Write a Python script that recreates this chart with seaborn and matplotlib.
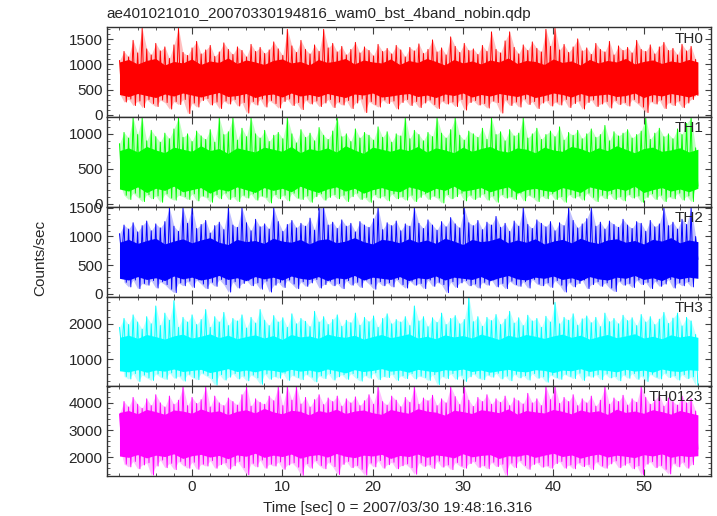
import numpy as np
import pandas as pd
import matplotlib
matplotlib.use("Agg")
import matplotlib.pyplot as plt
import seaborn as sns
from matplotlib.ticker import MultipleLocator

title = "ae401021010_20070330194816_wam0_bst_4band_nobin.qdp"
channels = ["TH0", "TH1", "TH2", "TH3", "TH0123"]
colors = ["#ff0000", "#00ff00", "#0000ff", "#00ffff", "#ff00ff"]

# upper / lower excursions every 0.5 s (counts/sec)
th0_hi = [1080, 1260, 1150, 1480, 1230, 1720, 1310, 1190, 1420, 1270, 1350, 1120, 1390, 1720, 1240, 1180,
          1330, 1460, 1210, 1290, 1380, 1160, 1250, 1430, 1300, 1200, 1350, 1280, 1150, 1400, 1260, 1340,
          1220, 1290, 1450, 1310, 1180, 1700, 1370, 1240, 1480, 1300, 1210, 1390, 1260, 1700, 1330, 1420,
          1250, 1360, 1190, 1300, 1440, 1230, 1350, 1280, 1170, 1400, 1260, 1320, 1210, 1380, 1290, 1150,
          1340, 1270, 1410, 1220, 1300, 1490, 1250, 1330, 1190, 1550, 1360, 1240, 1420, 1280, 1310, 1200,
          1380, 1260, 1650, 1300, 1230, 1470, 1650, 1340, 1210, 1390, 1280, 1450, 1320, 1250, 1700, 1360,
          1720, 1290, 1400, 1240, 1350, 1510, 1270, 1330, 1200, 1420, 1300, 1250, 1460, 1190, 1370, 1280,
          1340, 1230, 1480, 1300, 1260, 1390, 1210, 1350, 1440, 1280, 1320, 1190, 1400, 1270, 1360, 1100]
th0_lo = [420, 250, 310, 180, 270, 140, 300, 220, 160, 290, 240, 110, 260, 200, 300, 20,
          230, 150, 280, 320, 190, 250, 120, 270, 210, 300, 170, 240, 30, 260, 190, 310,
          150, 280, 220, 130, 260, 310, 180, 240, 100, 290, 210, 270, 160, 230, 300, 140,
          250, 190, 280, 120, 230, 310, 40, 260, 200, 150, 290, 220, 270, 110, 240, 300,
          180, 260, 140, 230, 290, 200, 120, 270, 210, 250, 160, 300, 90, 240, 280, 190,
          220, 130, 270, 240, 30, 290, 180, 250, 150, 310, 200, 260, 120, 230, 280, 170,
          250, 190, 300, 140, 220, 270, 110, 240, 290, 160, 210, 260, 130, 280, 200, 240,
          170, 300, 230, 150, 40, 260, 210, 290, 120, 240, 180, 270, 140, 230, 300, 380]

th1_hi = [860, 1020, 940, 1230, 990, 1230, 900, 1050, 960, 880, 1010, 930, 1070, 1230, 950, 1000,
          890, 1040, 970, 920, 1060, 880, 1230, 990, 1030, 1230, 910, 1080, 960, 1230, 1000, 940,
          1050, 890, 980, 1020, 930, 1230, 1000, 870, 1060, 950, 1010, 900, 1090, 980, 920, 1040,
          1230, 960, 1000, 890, 1070, 940, 1020, 980, 910, 1100, 950, 1030, 880, 1000, 970, 1230,
          930, 1050, 990, 900, 1020, 960, 1230, 1010, 940, 1060, 1230, 980, 910, 1040, 1000, 950,
          1080, 920, 1230, 990, 1030, 900, 1060, 970, 1010, 1230, 940, 1000, 1080, 920, 990, 1040,
          960, 1100, 910, 1020, 980, 1050, 930, 1000, 1070, 950, 990, 1120, 900, 1030, 970, 1010,
          1060, 940, 990, 1040, 1230, 920, 1010, 1080, 960, 1000, 930, 1070, 990, 1150, 1230, 800]
th1_lo = [300, 120, 60, 150, 90, 30, 130, 70, 110, 20, 140, 80, 50, 120, 100, 60,
          140, 40, 110, 90, 20, 130, 70, 150, 60, 100, 30, 120, 80, 140, 50, 110,
          90, 10, 130, 70, 120, 40, 150, 80, 60, 110, 20, 100, 140, 50, 90, 130,
          70, 120, 30, 100, 150, 60, 90, 20, 130, 80, 110, 40, 140, 70, 100, 50,
          120, 30, 90, 140, 60, 110, 80, 10, 130, 70, 100, 150, 40, 120, 60, 90,
          140, 50, 110, 20, 130, 80, 100, 60, 150, 40, 120, 90, 30, 110, 70, 140,
          60, 100, 20, 130, 80, 110, 50, 150, 90, 30, 120, 70, 140, 60, 100, 40,
          130, 80, 110, 20, 90, 140, 60, 120, 30, 100, 70, 150, 50, 110, 30, 250]

th2_hi = [1050, 1200, 1130, 1240, 1080, 1190, 1270, 1100, 1220, 1150, 1260, 1500, 1180, 1090, 1500, 1230,
          1500, 1140, 1210, 1280, 1060, 1190, 1250, 1120, 1500, 1200, 1160, 1500, 1240, 1100, 1300, 1170,
          1220, 1130, 1500, 1260, 1090, 1210, 1280, 1150, 1230, 1180, 1320, 1110, 1500, 1500, 1200, 1250,
          1140, 1290, 1180, 1230, 1080, 1260, 1200, 1160, 1310, 1500, 1120, 1240, 1190, 1270, 1100, 1220,
          1180, 1500, 1230, 1140, 1290, 1200, 1110, 1260, 1170, 1330, 1220, 1150, 1500, 1240, 1190, 1280,
          1120, 1250, 1200, 1350, 1160, 1230, 1090, 1270, 1180, 1500, 1210, 1140, 1290, 1230, 1170, 1260,
          1100, 1240, 1190, 1500, 1280, 1150, 1220, 1310, 1500, 1180, 1250, 1130, 1270, 1210, 1160, 1300,
          1200, 1140, 1260, 1230, 1090, 1280, 1170, 1220, 1500, 1190, 1250, 1130, 1300, 1210, 1500, 1000]
th2_lo = [650, 200, 120, 240, 90, 180, 150, 230, 100, 210, 160, 80, 20, 190, 140, 220,
          110, 240, 170, 90, 200, 130, 250, 160, 30, 210, 100, 180, 230, 140, 190, 80,
          220, 30, 150, 200, 110, 240, 170, 90, 210, 130, 190, 250, 100, 160, 220, 140,
          180, 90, 230, 150, 200, 110, 240, 170, 80, 210, 140, 190, 120, 250, 160, 100,
          220, 150, 180, 90, 240, 130, 200, 160, 20, 210, 110, 190, 230, 140, 170, 100,
          200, 150, 240, 120, 180, 90, 220, 160, 130, 210, 100, 250, 170, 140, 190, 110,
          230, 150, 30, 200, 120, 180, 240, 90, 160, 210, 130, 190, 100, 40, 220, 150,
          180, 110, 240, 160, 200, 90, 220, 130, 170, 250, 100, 190, 140, 210, 120, 600]

th3_hi = [1900, 2150, 1980, 2250, 2050, 1850, 2200, 2000, 2500, 1950, 2300, 2100, 2650, 1900, 2180, 2050,
          2250, 1980, 2120, 2400, 1900, 2200, 2050, 2320, 1950, 2150, 2080, 2250, 1880, 2180, 2020, 2400,
          2100, 1950, 2230, 2050, 2170, 1900, 2280, 2000, 2150, 2070, 1920, 2350, 2050, 2200, 1980, 2120,
          2250, 1930, 2100, 2030, 2300, 1960, 2180, 2060, 2220, 1900, 2150, 2280, 2000, 2120, 2050, 2200,
          1950, 2500, 2080, 2200, 1920, 2170, 2040, 2300, 1980, 2150, 2230, 2000, 2120, 2750, 2060, 2200,
          1930, 2180, 2090, 2260, 1980, 2130, 2350, 2020, 2170, 1950, 2240, 2080, 2150, 1900, 2210, 2050,
          2600, 2000, 2180, 2100, 2280, 1960, 2140, 2220, 2030, 2180, 1920, 2300, 2060, 2150, 2000, 2240,
          2090, 2170, 1950, 2260, 2050, 2200, 1980, 2130, 2320, 2010, 2160, 2300, 1940, 2180, 2080, 1700]
th3_lo = [1300, 520, 450, 600, 380, 560, 480, 410, 590, 500, 440, 620, 470, 530, 390, 580,
          490, 430, 610, 540, 460, 280, 570, 420, 500, 600, 450, 530, 400, 560, 480, 300,
          590, 440, 520, 470, 610, 410, 550, 490, 430, 580, 500, 370, 540, 460, 600, 420,
          510, 570, 440, 600, 480, 390, 550, 470, 620, 430, 520, 490, 580, 410, 540, 460,
          600, 450, 530, 490, 410, 570, 290, 520, 460, 600, 440, 550, 380, 510, 590, 470,
          430, 560, 500, 610, 450, 530, 400, 580, 480, 540, 420, 600, 470, 510, 360, 560,
          490, 440, 580, 520, 460, 610, 410, 540, 500, 570, 430, 590, 480, 520, 400, 560,
          470, 600, 440, 530, 380, 580, 500, 450, 610, 490, 540, 420, 570, 460, 510, 270]

th0123_hi = [3600, 4050, 3850, 4200, 3950, 3800, 4150, 3900, 4300, 4000, 3850, 4250, 3950, 4100, 4600, 3900,
             4200, 3980, 4120, 4600, 3850, 4250, 4000, 3900, 4180, 4050, 3920, 4300, 4600, 3880, 4150, 4020,
             3950, 4250, 4080, 4600, 3900, 4600, 4100, 4600, 3960, 4200, 3850, 4120, 4300, 3940, 4180, 4050,
             4250, 3880, 4150, 4000, 4220, 3900, 4080, 4300, 3950, 4600, 4050, 3920, 4250, 4100, 3860, 4200,
             4020, 4600, 3950, 4180, 4080, 4280, 3900, 4150, 4000, 4600, 4230, 3940, 4600, 4100, 3870, 4200,
             4050, 4300, 3950, 4150, 4020, 4250, 3900, 4180, 4080, 3960, 4350, 4000, 4150, 3900, 4600, 4120,
             4600, 3980, 4200, 4050, 4300, 3900, 4150, 4000, 4250, 3880, 4100, 4600, 3950, 4180, 4050, 4280,
             3920, 4150, 4020, 4600, 4200, 3950, 4100, 4300, 3880, 4180, 4050, 3920, 4250, 4000, 4150, 3700]
th0123_lo = [2400, 1750, 1650, 1850, 1580, 1720, 1800, 1350, 1680, 1900, 1620, 1780, 1550, 1850, 1700, 1600,
             1820, 1560, 1750, 1680, 1880, 1600, 1730, 1800, 1570, 1690, 1850, 1620, 1360, 1780, 1650, 1900,
             1600, 1750, 1680, 1830, 1560, 1720, 1800, 1640, 1340, 1770, 1600, 1880, 1700, 1580, 1820, 1660,
             1370, 1740, 1850, 1620, 1700, 1560, 1350, 1790, 1650, 1880, 1600, 1730, 1820, 1580, 1690, 1760,
             1620, 1380, 1800, 1670, 1730, 1590, 1860, 1640, 1720, 1550, 1810, 1680, 1600, 1770, 1850, 1630,
             1700, 1580, 1820, 1660, 1750, 1340, 1790, 1620, 1880, 1700, 1560, 1740, 1810, 1640, 1690, 1600,
             1770, 1850, 1600, 1720, 1580, 1800, 1660, 1740, 1550, 1830, 1680, 1600, 1760, 1870, 1620, 1710,
             1800, 1580, 1690, 1360, 1750, 1840, 1620, 1700, 1560, 1390, 1780, 1650, 1820, 1600, 1730, 2300]

# edges of the dense (solid) part of each band, every 1 s
th0_core_lo = [400, 360, 420, 380, 340, 410, 370, 430, 390, 350, 400, 440, 360, 380, 420, 340,
               390, 410, 350, 430, 370, 400, 360, 420, 380, 340, 410, 390, 430, 350, 370, 400,
               420, 360, 390, 340, 410, 380, 430, 350, 400, 370, 420, 390, 360, 410, 340, 380,
               430, 400, 350, 420, 370, 390, 410, 360, 380, 430, 340, 400, 370, 420, 390, 350, 410]
th0_core_hi = [1050, 1100, 1010, 1080, 1120, 990, 1060, 1030, 1110, 1000, 1070, 1040, 1130, 1020, 1090, 1050,
               1000, 1080, 1110, 1030, 1060, 990, 1100, 1040, 1070, 1120, 1010, 1090, 1050, 1030, 1110, 1000,
               1080, 1040, 1120, 1060, 990, 1100, 1030, 1070, 1010, 1090, 1050, 1130, 1020, 1080, 1060, 1000,
               1110, 1040, 1070, 990, 1100, 1030, 1080, 1050, 1120, 1010, 1060, 1090, 1020, 1070, 1040, 1100, 1050]
th1_core_lo = [210, 180, 240, 160, 220, 190, 250, 170, 200, 230, 150, 210, 180, 240, 200, 160,
               230, 190, 220, 170, 250, 200, 160, 210, 240, 180, 220, 150, 200, 230, 190, 170,
               240, 210, 160, 220, 190, 250, 180, 200, 230, 170, 210, 240, 150, 200, 220, 190,
               170, 230, 200, 160, 240, 210, 180, 220, 190, 250, 160, 200, 230, 180, 210, 170, 220]
th1_core_hi = [760, 800, 740, 820, 770, 730, 810, 780, 750, 830, 760, 790, 720, 800, 770, 740,
               810, 780, 750, 820, 730, 790, 760, 800, 740, 830, 770, 720, 810, 780, 750, 790,
               760, 820, 740, 800, 770, 730, 810, 750, 790, 820, 760, 740, 800, 780, 730, 810,
               770, 750, 820, 790, 740, 800, 760, 830, 780, 730, 790, 810, 750, 770, 800, 740, 780]
th2_core_lo = [270, 240, 300, 250, 280, 230, 310, 260, 290, 240, 270, 320, 250, 280, 230, 300,
               260, 290, 240, 310, 270, 250, 300, 230, 280, 260, 320, 240, 290, 270, 250, 300,
               230, 280, 260, 310, 240, 290, 270, 250, 300, 230, 280, 320, 260, 240, 290, 270,
               310, 250, 280, 230, 300, 260, 240, 290, 270, 320, 250, 280, 230, 300, 260, 290, 270]
th2_core_hi = [900, 950, 880, 930, 970, 870, 920, 960, 890, 940, 980, 900, 860, 950, 910, 930,
               880, 970, 920, 900, 950, 870, 940, 960, 890, 920, 980, 910, 870, 950, 930, 890,
               960, 900, 940, 880, 970, 920, 860, 950, 910, 930, 980, 890, 940, 900, 960, 870,
               920, 950, 890, 970, 910, 880, 940, 960, 900, 930, 870, 950, 920, 980, 890, 940, 910]
th3_core_lo = [680, 650, 710, 640, 700, 670, 730, 660, 690, 720, 630, 680, 740, 660, 700, 650,
               710, 690, 640, 720, 670, 700, 650, 730, 680, 620, 710, 660, 690, 740, 670, 700,
               640, 720, 680, 650, 710, 690, 730, 660, 700, 640, 680, 720, 670, 650, 710, 690,
               630, 700, 680, 740, 660, 710, 690, 650, 720, 670, 700, 640, 730, 680, 660, 710, 690]
th3_core_hi = [1620, 1680, 1590, 1700, 1640, 1570, 1660, 1710, 1600, 1650, 1720, 1610, 1680, 1580, 1640, 1690,
               1600, 1670, 1560, 1700, 1630, 1660, 1590, 1710, 1650, 1620, 1680, 1570, 1640, 1700, 1610, 1660,
               1720, 1600, 1650, 1580, 1690, 1630, 1670, 1600, 1710, 1640, 1560, 1680, 1620, 1700, 1650, 1590,
               1660, 1710, 1620, 1680, 1570, 1640, 1700, 1610, 1660, 1720, 1600, 1650, 1580, 1690, 1630, 1670, 1620]
th0123_core_lo = [2050, 2000, 2100, 1980, 2080, 2030, 2130, 1960, 2060, 2110, 2010, 2070, 1950, 2090, 2040, 2150,
                  2000, 2080, 2030, 2120, 1970, 2060, 2100, 2010, 2140, 2040, 1990, 2080, 2050, 2110, 1960, 2070,
                  2030, 2120, 2000, 2090, 2050, 1980, 2130, 2020, 2070, 2100, 1960, 2060, 2040, 2110, 2000, 2080,
                  2150, 2030, 2090, 1970, 2060, 2120, 2010, 2080, 2040, 1990, 2100, 2050, 2130, 2000, 2070, 2030, 2060]
th0123_core_hi = [3650, 3720, 3600, 3760, 3680, 3580, 3740, 3700, 3620, 3780, 3660, 3710, 3570, 3690, 3750, 3630,
                  3800, 3670, 3600, 3730, 3690, 3560, 3720, 3650, 3770, 3610, 3700, 3740, 3640, 3580, 3760, 3680,
                  3620, 3790, 3700, 3660, 3550, 3730, 3680, 3610, 3750, 3700, 3640, 3780, 3590, 3720, 3670, 3630,
                  3760, 3690, 3600, 3740, 3660, 3710, 3580, 3770, 3650, 3700, 3620, 3750, 3680, 3590, 3720, 3640, 3560]

his = [th0_hi, th1_hi, th2_hi, th3_hi, th0123_hi]
los = [th0_lo, th1_lo, th2_lo, th3_lo, th0123_lo]
core_los = [th0_core_lo, th1_core_lo, th2_core_lo, th3_core_lo, th0123_core_lo]
core_his = [th0_core_hi, th1_core_hi, th2_core_hi, th3_core_hi, th0123_core_hi]

ylims = [(-50, 1740), (-45, 1240), (-48, 1518), (245, 2765), (1315, 4610)]
majors = [500, 500, 500, 1000, 1000]
minors = [100, 100, 100, 200, 200]

sns.set_style("ticks")
plt.rcParams['font.family'] = ['Liberation Sans', 'DejaVu Sans']

fig, axes = plt.subplots(5, 1, sharex=True, figsize=(7.17, 5.16), dpi=100)
fig.subplots_adjust(left=0.149, right=0.991, top=0.947, bottom=0.0775, hspace=0)

for k, ax in enumerate(axes):
    n = len(his[k])
    vals = np.empty(2 * n)
    vals[0::2] = his[k]
    vals[1::2] = los[k]
    t = np.linspace(-8, 56, 2 * n)
    df = pd.DataFrame({'time': t, 'rate': vals})
    # faint fringe between the excursions, then the solid core
    ax.fill_between(t[0::2], los[k], his[k], color=colors[k], alpha=0.25, lw=0)
    tc = np.linspace(-8, 56, len(core_los[k]))
    ax.fill_between(tc, core_los[k], core_his[k], color=colors[k], lw=0)
    sns.lineplot(data=df, x='time', y='rate', ax=ax, color=colors[k], lw=0.7,
                 sort=False, estimator=None)
    ax.set_ylim(*ylims[k])
    ax.set_xlim(-9.4, 57.4)
    ax.yaxis.set_major_locator(MultipleLocator(majors[k]))
    ax.yaxis.set_minor_locator(MultipleLocator(minors[k]))
    ax.xaxis.set_major_locator(MultipleLocator(10))
    ax.xaxis.set_minor_locator(MultipleLocator(2))
    ax.tick_params(which='both', direction='in', top=True, right=True,
                   color='#404040', labelsize=11, pad=3)
    ax.tick_params(axis='x', which='major', length=5)
    ax.tick_params(axis='x', which='minor', length=2.5)
    ax.tick_params(axis='y', which='major', length=4)
    ax.tick_params(axis='y', which='minor', length=2)
    ax.set_xlabel('')
    ax.set_ylabel('')
    for s in ax.spines.values():
        s.set_color('#303030')
        s.set_linewidth(1.0)
    ax.text(0.988, 0.875, channels[k], transform=ax.transAxes, ha='right',
            va='center', fontsize=11)

fig.text(0.149, 0.972, title, ha='left', va='center', fontsize=11)
fig.text(0.555, 0.016, 'Time [sec] 0 = 2007/03/30 19:48:16.316', ha='center',
         va='center', fontsize=11)
fig.text(0.056, 0.5, 'Counts/sec', rotation=90, ha='center', va='center', fontsize=11)

plt.savefig('out.png', dpi=100)
